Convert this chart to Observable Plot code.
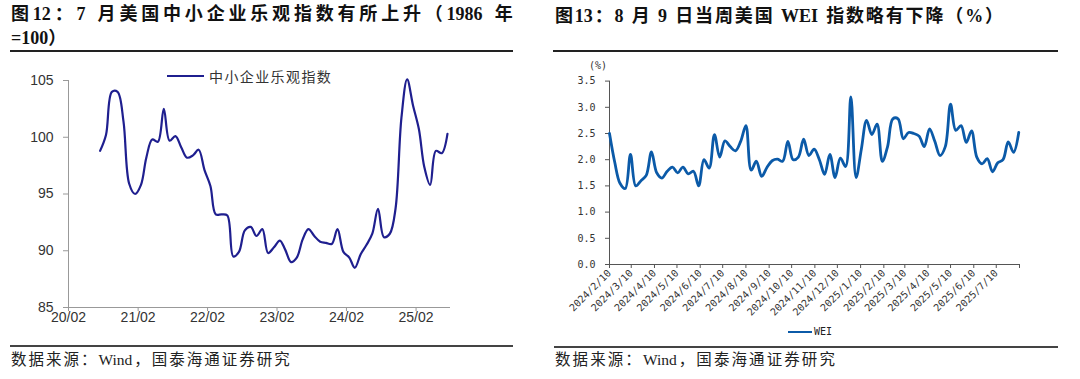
<!DOCTYPE html>
<html><head><meta charset="utf-8">
<script src="https://cdn.jsdelivr.net/npm/d3@7"></script>
<script src="https://cdn.jsdelivr.net/npm/@observablehq/plot@0.6"></script>
<style>
body{margin:0;background:#fff;width:1080px;height:379px;position:relative;overflow:hidden;font-family:"Liberation Serif","Noto Sans CJK SC",serif;}
.abs{position:absolute;white-space:nowrap;}
.title{font-weight:bold;font-size:18px;color:#111;line-height:20px;}
.rule{position:absolute;background:#222;}
.src{font-size:15.5px;color:#222;line-height:18px;}
</style></head><body>
<div class="abs title" id="t1a" style="left:11px;top:4px;">图12：7 月美国中小企业乐观指数有所上升（1986 年</div>
<div class="abs title" style="left:11px;top:28px;">=100）</div>
<div class="abs title" id="t2" style="left:555px;top:6px;">图13：8 月 9 日当周美国 WEI 指数略有下降（%）</div>
<div class="rule" style="left:10px;top:50px;width:503px;height:2px;"></div>
<div class="rule" style="left:553px;top:50px;width:505px;height:2px;"></div>
<div id="c1" class="abs" style="left:0;top:60px;"></div>
<div id="c2" class="abs" style="left:540px;top:60px;"></div>
<div class="abs" style="left:167px;top:75px;width:37px;height:2px;background:#1f1f8f;"></div>
<div class="abs" style="left:209px;top:67px;font-family:'Noto Sans CJK SC';font-size:14px;letter-spacing:1.4px;color:#333;line-height:18px;">中小企业乐观指数</div>
<div class="abs" style="left:589px;top:60px;font-family:'DejaVu Sans Mono',monospace;font-size:10px;color:#333;">(%)</div>
<div class="abs" style="left:788px;top:331px;width:24px;height:2px;background:#0b5aa8;"></div>
<div class="abs" style="left:814px;top:325px;font-family:'DejaVu Sans Mono',monospace;font-size:10px;color:#222;line-height:14px;">WEI</div>
<div class="rule" style="left:10px;top:345px;width:503px;height:1.5px;background:#444;"></div>
<div class="rule" style="left:554px;top:346px;width:504px;height:1.5px;background:#444;"></div>
<div class="abs src" id="s1" style="left:11px;top:351px;">数据来源：Wind，国泰海通证券研究</div>
<div class="abs src" id="s2" style="left:555px;top:351px;">数据来源：Wind，国泰海通证券研究</div>
<script>
// ---- Chart 12: NFIB small business optimism index (1986=100)
const nfibMonths = ["2020-07","2020-08","2020-09","2020-10","2020-11","2020-12",
"2021-01","2021-02","2021-03","2021-04","2021-05","2021-06","2021-07","2021-08","2021-09","2021-10","2021-11","2021-12",
"2022-01","2022-02","2022-03","2022-04","2022-05","2022-06","2022-07","2022-08","2022-09","2022-10","2022-11","2022-12",
"2023-01","2023-02","2023-03","2023-04","2023-05","2023-06","2023-07","2023-08","2023-09","2023-10","2023-11","2023-12",
"2024-01","2024-02","2024-03","2024-04","2024-05","2024-06","2024-07","2024-08","2024-09","2024-10","2024-11","2024-12",
"2025-01","2025-02","2025-03","2025-04","2025-05","2025-06","2025-07"];
const nfibValues = [98.8,100.2,104.0,104.0,101.4,95.9,
95.0,95.8,98.2,99.8,99.6,102.5,99.7,100.1,99.1,98.2,98.4,98.9,
97.1,95.7,93.2,93.2,93.1,89.5,89.9,91.8,92.1,91.3,91.9,89.8,
90.3,90.9,90.1,89.0,89.4,91.0,91.9,91.3,90.8,90.7,90.6,91.9,
89.9,89.4,88.5,89.7,90.5,91.5,93.7,91.2,91.5,93.7,101.7,105.1,
102.8,100.7,97.4,95.8,98.8,98.6,100.3];
const nfibTicks = ["2020-02-01","2021-02-01","2022-02-01","2023-02-01","2024-02-01","2025-02-01"];
const nfibTickLabels = ["20/02","21/02","22/02","23/02","24/02","25/02"];
const nfibYTicks = [85,90,95,100,105];

// ---- Chart 13: weekly economic index (WEI, %)
const weiDates = ["2024-02-10","2024-02-17","2024-02-24","2024-03-02","2024-03-09","2024-03-16","2024-03-23","2024-03-30",
"2024-04-06","2024-04-13","2024-04-20","2024-04-27","2024-05-04","2024-05-11","2024-05-18","2024-05-25",
"2024-06-01","2024-06-08","2024-06-15","2024-06-22","2024-06-29","2024-07-06","2024-07-13","2024-07-20","2024-07-27",
"2024-08-03","2024-08-10","2024-08-17","2024-08-24","2024-08-31","2024-09-07","2024-09-14","2024-09-21","2024-09-28",
"2024-10-05","2024-10-12","2024-10-19","2024-10-26","2024-11-02","2024-11-09","2024-11-16","2024-11-23","2024-11-30",
"2024-12-07","2024-12-14","2024-12-21","2024-12-28","2025-01-04","2025-01-11","2025-01-18","2025-01-25",
"2025-02-01","2025-02-08","2025-02-15","2025-02-22","2025-03-01","2025-03-08","2025-03-15","2025-03-22","2025-03-29",
"2025-04-05","2025-04-12","2025-04-19","2025-04-26","2025-05-03","2025-05-10","2025-05-17","2025-05-24","2025-05-31",
"2025-06-07","2025-06-14","2025-06-21","2025-06-28","2025-07-05","2025-07-12","2025-07-19","2025-07-26","2025-08-02","2025-08-09"];
const weiValues = [2.50,1.95,1.55,1.45,2.10,1.50,1.60,1.70,2.15,1.75,1.65,1.78,1.86,1.75,1.86,1.73,
1.78,1.50,2.00,1.84,2.48,2.05,2.36,2.25,2.17,2.35,2.65,1.80,1.97,1.68,1.85,1.98,2.01,1.97,
2.35,2.00,2.05,2.39,2.08,2.20,2.00,1.72,2.10,1.66,2.03,1.87,3.20,1.66,2.20,2.75,2.48,2.68,
1.97,2.25,2.78,2.78,2.40,2.52,2.50,2.45,2.25,2.59,2.35,2.08,2.25,3.06,2.56,2.65,2.33,2.55,
2.05,1.92,2.02,1.77,1.94,2.00,2.34,2.14,2.52];
const weiTicks = ["2024-02-10","2024-03-10","2024-04-10","2024-05-10","2024-06-10","2024-07-10","2024-08-10","2024-09-10",
"2024-10-10","2024-11-10","2024-12-10","2025-01-10","2025-02-10","2025-03-10","2025-04-10","2025-05-10","2025-06-10","2025-07-10","2025-08-10"];
const weiTickLabels = ["2024/2/10","2024/3/10","2024/4/10","2024/5/10","2024/6/10","2024/7/10","2024/8/10","2024/9/10",
"2024/10/10","2024/11/10","2024/12/10","2025/1/10","2025/2/10","2025/3/10","2025/4/10","2025/5/10","2025/6/10","2025/7/10",""];
const weiYTicks = [0,0.5,1,1.5,2,2.5,3,3.5];

// ---- build chart 12
const nfib = nfibMonths.map((m, i) => ({date: new Date(m + "-16"), value: nfibValues[i]}));
const x1Start = new Date("2020-02-01"), x1End = new Date("2025-08-01");
const nfibTickDates = nfibTicks.map(d => new Date(d));
const c1 = Plot.plot({
  width: 540, height: 280, marginLeft: 68, marginRight: 90, marginTop: 20, marginBottom: 33,
  style: {fontFamily: "'Liberation Sans', Arial, sans-serif", fontSize: "14px", background: "transparent", overflow: "visible"},
  x: {type: "utc", domain: [x1Start, x1End]},
  y: {domain: [85, 105]},
  marks: [
    Plot.axisX({ticks: nfibTickDates, tickFormat: (d) => nfibTickLabels[nfibTickDates.findIndex(t => +t === +d)],
      tickSize: 4, tickPadding: 1, stroke: "#999", fill: "#333", label: null}),
    Plot.axisY({ticks: nfibYTicks, tickSize: 5, tickPadding: 10, stroke: "#999", fill: "#333", label: null}),
    Plot.ruleX([x1Start], {stroke: "#999"}),
    Plot.ruleY([85], {stroke: "#999"}),
    Plot.line(nfib, {x: "date", y: "value", stroke: "#1f1f8f", strokeWidth: 2.2, curve: "catmull-rom"})
  ]
});
document.getElementById("c1").appendChild(c1);

// ---- build chart 13
const wei = weiDates.map((d, i) => ({date: new Date(d), value: weiValues[i]}));
const weiTickDates = weiTicks.map(d => new Date(d));
const x2Start = weiTickDates[0], x2End = weiTickDates[weiTickDates.length - 1];
const c2 = Plot.plot({
  width: 540, height: 265, marginLeft: 69, marginRight: 61, marginTop: 20.6, marginBottom: 61,
  style: {fontFamily: "'DejaVu Sans Mono', monospace", fontSize: "10px", background: "transparent", overflow: "visible"},
  x: {type: "utc", domain: [x2Start, x2End]},
  y: {domain: [0, 3.5]},
  marks: [
    Plot.axisX({ticks: weiTickDates, tickFormat: (d) => weiTickLabels[weiTickDates.findIndex(t => +t === +d)],
      tickRotate: -45, tickSize: 4, tickPadding: 3, stroke: "#555", fill: "#333", label: null}),
    Plot.axisY({ticks: weiYTicks, tickFormat: d3.format(".1f"), tickSize: 4, tickPadding: 10, stroke: "#555", fill: "#333", label: null}),
    Plot.ruleX([x2Start], {stroke: "#555"}),
    Plot.ruleY([0], {stroke: "#555"}),
    Plot.line(wei, {x: "date", y: "value", stroke: "#0b5aa8", strokeWidth: 2.8, curve: "catmull-rom"})
  ]
});
document.getElementById("c2").appendChild(c2);

// spread text to a target width (CJK justified look), keeping latin/digit runs tight
function spread(id, target) {
  const el = document.getElementById(id);
  const tokens = el.textContent.match(/[0-9A-Za-z=.%]+|./gu);
  el.textContent = "";
  const spans = tokens.map(t => { const s = document.createElement("span"); s.textContent = t; el.appendChild(s); return s; });
  const w = el.getBoundingClientRect().width;
  const extra = (target - w) / (spans.length - 1);
  spans.slice(0, -1).forEach(s => s.style.marginRight = extra + "px");
}
spread("t1a", 502);
spread("t2", 448);
spread("s1", 279);
spread("s2", 280);
</script>
</body></html>
